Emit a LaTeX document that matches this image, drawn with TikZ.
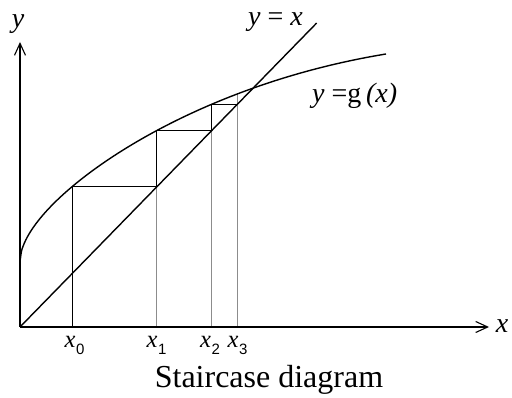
\documentclass[tikz,border=0pt]{standalone}
\usepackage{fontspec}
\setmainfont{Liberation Serif}
\newfontfamily\subfont{Liberation Sans}
\usetikzlibrary{arrows.meta}
\newcommand{\xsub}[1]{\textit{x}\kern0.5pt\raisebox{-7pt}{\subfont\fontsize{15}{16}\selectfont #1}}
\begin{document}
\begin{tikzpicture}[x=1pt,y=-1pt,
  declare function={gf(\u)=65.3+8.255*sqrt(\u)+0.3229*\u-(0.022605*\u)*(0.022605*\u);},
  axis/.style={line width=1.6pt, -{Straight Barb[length=12pt,width=11pt,line width=1.1pt]}},
  curve/.style={line width=1.4pt},
  stairline/.style={line width=1pt},
  guide/.style={line width=0.9pt, black!45},
  lbl/.style={font=\fontsize{28}{30}\selectfont, inner sep=0pt},
  ticklbl/.style={font=\fontsize{24.5}{26}\selectfont, inner sep=0pt, anchor=base west}]
\useasboundingbox (0,0) rectangle (512,398);
% staircase values (u = x-20, v = 327-y)
\pgfmathsetmacro{\ua}{52}
\pgfmathsetmacro{\va}{gf(\ua)}
\pgfmathsetmacro{\ub}{\va/1.0246}
\pgfmathsetmacro{\vb}{gf(\ub)}
\pgfmathsetmacro{\uc}{\vb/1.0246}
\pgfmathsetmacro{\vc}{gf(\uc)}
\pgfmathsetmacro{\ud}{\vc/1.0246}
\pgfmathsetmacro{\vd}{gf(\ud)}
% key points
\coordinate (O) at (20,327);
\coordinate (Ytip) at (20,42);
\coordinate (Xtip) at (489,327);
\coordinate (Dend) at (316.7,23);
\coordinate (P0) at ({20+\ua},327);
\coordinate (P1) at ({20+\ub},327);
\coordinate (P2) at ({20+\uc},327);
\coordinate (P3) at ({20+\ud},327);
\coordinate (A0) at ({20+\ua},{327-\va});
\coordinate (B1) at ({20+\ub},{327-\va});
\coordinate (A1) at ({20+\ub},{327-\vb});
\coordinate (B2) at ({20+\uc},{327-\vb});
\coordinate (A2) at ({20+\uc},{327-\vc});
\coordinate (B3) at ({20+\ud},{327-\vc});
\coordinate (A3) at ({20+\ud},{327-\vd});
% guides
\draw[guide] (P1) -- (B1);
\draw[guide] (P2) -- (B2);
\draw[guide] (P3) -- (B3) -- (A3);
% staircase
\draw[stairline] (P0) -- (A0) -- (B1) -- (A1) -- (B2) -- (A2) -- (B3);
% curve g
\draw[curve] plot[domain=0:366, samples=250, smooth] ({20+\x},{327-gf(\x)});
% diagonal
\draw[curve] (O) -- (Dend);
% axes
\draw[axis] (O) -- (Ytip);
\draw[axis] (O) -- (Xtip);
% labels
\node[lbl, anchor=base] (ylab) at (18,28) {\textit{y}};
\node[lbl, anchor=base] (xlab) at (502,333) {\textit{x}};
\node[lbl, anchor=base west] (dlab) at (248,26) {\textit{y} = \textit{x}};
\node[lbl, anchor=base west] (glab) at (312,103) {\textit{y} =g\,\textit{(x)}};
\node[ticklbl] (t0) at (64.5,348) {\xsub{0}};
\node[ticklbl] (t1) at (146.5,348) {\xsub{1}};
\node[ticklbl] (t2) at (200,348) {\xsub{2}};
\node[ticklbl] (t3) at (227.5,348) {\xsub{3}};
\node[anchor=base, inner sep=0pt, font=\fontsize{32}{34}\selectfont] (cap) at (269,388) {Staircase diagram};
\end{tikzpicture}
\end{document}
